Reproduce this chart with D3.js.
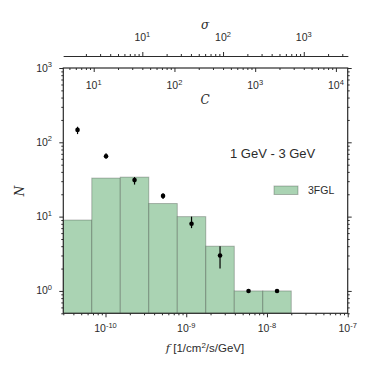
<!DOCTYPE html>
<html lang="en">
<head>
<meta charset="UTF-8">
<title>Flux histogram</title>
<script src="https://cdn.jsdelivr.net/npm/d3@7/dist/d3.min.js"></script>
<style>
    body{ margin:0; background:#fff; }
    text{ font-family:"Liberation Sans", Arial, sans-serif; fill:#2b2b2b; }
    .math{ font-family:"DejaVu Serif", "Liberation Serif", serif; font-style:italic; }
    .tick line{ stroke:#2b2b2b; }
    .domain{ stroke:#2b2b2b; }
</style>
</head>
<body>
<svg id="main" width="374" height="374"></svg>
<script>
    // histogram bin edges (log-spaced flux) and 3FGL counts
    let binEdges = [3.0e-11, 6.76e-11, 1.524e-10, 3.436e-10, 7.746e-10, 1.746e-9, 3.937e-9, 8.875e-9, 2.0e-8];
    let counts3FGL = [9, 33, 34, 15, 10, 4, 1, 1];
    // points with asymmetric error bars
    let pointN    = [147, 65, 31, 19, 8, 3, 1, 1];
    let pointLow  = [129, 60, 27, 17.3, 7, 2, 1, 1];
    let pointHigh = [162, 71, 34, 20.7, 10, 4, 1, 1];

    let xTickVals = [1e-10, 1e-9, 1e-8, 1e-7];
    let yTickVals = [1, 10, 100, 1000];
    let cTickVals = [1e1, 1e2, 1e3, 1e4];
    let sTickVals = [1e1, 1e2, 1e3];
    let titleText = '1 GeV - 3 GeV';
    let legendText = '3FGL';

    let svg = d3.select('svg#main');
    let box = {left:63.3, right:347.7, top:68, bottom:313.3};
    let green = 'rgb(170,211,179)';

    let x = d3.scaleLog().domain([3e-11, 1e-7]).range([box.left, box.right]);
    let y = d3.scaleLog().domain([0.5, 1000]).range([box.bottom, box.top]);
    let c = d3.scaleLog().domain([4.2, 14000]).range([box.left, box.right]);
    let s = d3.scaleLog().domain([1.05, 3500]).range([box.left, box.right]);

    // minor tick values 2..9 x 10^k inside a log scale's domain
    function minors(scale){
        let d = scale.domain(), out = [];
        for (let k = Math.floor(Math.log10(d[0])); k <= Math.ceil(Math.log10(d[1])); k++){
            for (let m = 2; m <= 9; m++){
                let v = m * Math.pow(10, k);
                if (v >= d[0] && v <= d[1]) out.push(v);
            }
        }
        return out;
    }

    function sup(sel, v){
        let e = Math.round(Math.log10(v));
        sel.append('tspan').text('10');
        sel.append('tspan').attr('font-size', 7.5).attr('dy', -4.5).text(e);
    }

    // bars
    let bins = counts3FGL.map(function(n, i){return {x0:binEdges[i], x1:binEdges[i+1], n:n};});
    svg.append('g').selectAll('rect').data(bins).join('rect')
        .attr('x', function(d){return x(d.x0);})
        .attr('width', function(d){return x(d.x1) - x(d.x0);})
        .attr('y', function(d){return y(d.n);})
        .attr('height', function(d){return box.bottom - y(d.n);})
        .attr('fill', green)
        .attr('stroke', 'rgba(0,0,0,0.25)')
        .attr('stroke-width', 1);

    // error bars and points, at the log centre of each bin
    let pts = pointN.map(function(n, i){
        return {xc:Math.sqrt(bins[i].x0 * bins[i].x1), n:n, lo:pointLow[i], hi:pointHigh[i]};
    });
    let pg = svg.append('g');
    pg.selectAll('line').data(pts).join('line')
        .attr('x1', function(d){return x(d.xc);}).attr('x2', function(d){return x(d.xc);})
        .attr('y1', function(d){return y(d.lo);}).attr('y2', function(d){return y(d.hi);})
        .attr('stroke', '#000').attr('stroke-width', 1.2);
    pg.selectAll('circle').data(pts).join('circle')
        .attr('cx', function(d){return x(d.xc);})
        .attr('cy', function(d){return y(d.n);})
        .attr('r', 2.3).attr('fill', '#000');

    // frame
    svg.append('rect').attr('x', box.left).attr('y', box.top)
        .attr('width', box.right - box.left).attr('height', box.bottom - box.top)
        .attr('fill', 'none').attr('stroke', '#2b2b2b').attr('stroke-width', 1.2);

    // bottom axis (f)
    svg.append('g').attr('transform', 'translate(0,' + box.bottom + ')')
        .call(d3.axisBottom(x).tickValues(xTickVals).tickSize(4).tickFormat(''));
    svg.append('g').attr('transform', 'translate(0,' + box.bottom + ')')
        .call(d3.axisBottom(x).tickValues(minors(x)).tickSize(2).tickFormat(''));
    svg.append('g').selectAll('text').data(xTickVals).join('text')
        .attr('x', function(d){return x(d);}).attr('y', 332)
        .attr('text-anchor', 'middle').attr('font-size', 10.5)
        .each(function(d){sup(d3.select(this), d);});

    // left and right axes (N)
    [[box.left, d3.axisLeft], [box.right, d3.axisRight]].forEach(function(a){
        svg.append('g').attr('transform', 'translate(' + a[0] + ',0)')
            .call(a[1](y).tickValues(yTickVals).tickSize(4).tickFormat(''));
        svg.append('g').attr('transform', 'translate(' + a[0] + ',0)')
            .call(a[1](y).tickValues(minors(y)).tickSize(2).tickFormat(''));
    });
    svg.append('g').selectAll('text').data(yTickVals).join('text')
        .attr('x', 52).attr('y', function(d){return y(d) + 3.5;})
        .attr('text-anchor', 'end').attr('font-size', 10.5)
        .each(function(d){sup(d3.select(this), d);});

    // top axis (C), ticks pointing in
    svg.append('g').attr('transform', 'translate(0,' + box.top + ')')
        .call(d3.axisBottom(c).tickValues(cTickVals).tickSize(4).tickFormat(''));
    svg.append('g').attr('transform', 'translate(0,' + box.top + ')')
        .call(d3.axisBottom(c).tickValues(minors(c)).tickSize(2).tickFormat(''));
    svg.selectAll('.domain').remove();
    svg.append('g').selectAll('text').data(cTickVals).join('text')
        .attr('x', function(d){return c(d);}).attr('y', 89)
        .attr('text-anchor', 'middle').attr('font-size', 10.5)
        .each(function(d){sup(d3.select(this), d);});

    // sigma axis above the frame
    let sg = svg.append('g').attr('transform', 'translate(0,56)');
    sg.call(d3.axisTop(s).tickValues(sTickVals).tickSize(4).tickSizeOuter(0).tickFormat(''));
    svg.append('g').attr('transform', 'translate(0,56)')
        .call(d3.axisTop(s).tickValues(minors(s)).tickSize(2).tickSizeOuter(0).tickFormat(''));
    sg.select('.domain').attr('stroke-width', 1.2);
    svg.append('g').selectAll('text').data(sTickVals).join('text')
        .attr('x', function(d){return s(d);}).attr('y', 41)
        .attr('text-anchor', 'middle').attr('font-size', 10.5)
        .each(function(d){sup(d3.select(this), d);});

    // axis labels
    svg.append('text').attr('class', 'math').attr('x', 205).attr('y', 29)
        .attr('text-anchor', 'middle').attr('font-size', 12).text('σ');
    svg.append('text').attr('class', 'math').attr('x', 205).attr('y', 104)
        .attr('text-anchor', 'middle').attr('font-size', 12).text('C');
    svg.append('text').attr('class', 'math')
        .attr('transform', 'translate(24,191) rotate(-90)')
        .attr('text-anchor', 'middle').attr('font-size', 12).text('N');
    let xl = svg.append('text').attr('x', 205).attr('y', 352)
        .attr('text-anchor', 'middle').attr('font-size', 11.5);
    xl.append('tspan').attr('class', 'math').text('f');
    xl.append('tspan').text(' [1/cm');
    xl.append('tspan').attr('font-size', 8).attr('dy', -4).text('2');
    xl.append('tspan').attr('dy', 4).text('/s/GeV]');

    // title and legend
    svg.append('text').attr('x', 230).attr('y', 158).attr('font-size', 13).text(titleText);
    svg.append('rect').attr('x', 274).attr('y', 186).attr('width', 24).attr('height', 8.5)
        .attr('fill', green).attr('stroke', 'rgba(0,0,0,0.25)');
    svg.append('text').attr('x', 308).attr('y', 194).attr('font-size', 10.5).text(legendText);
</script>
</body>
</html>
